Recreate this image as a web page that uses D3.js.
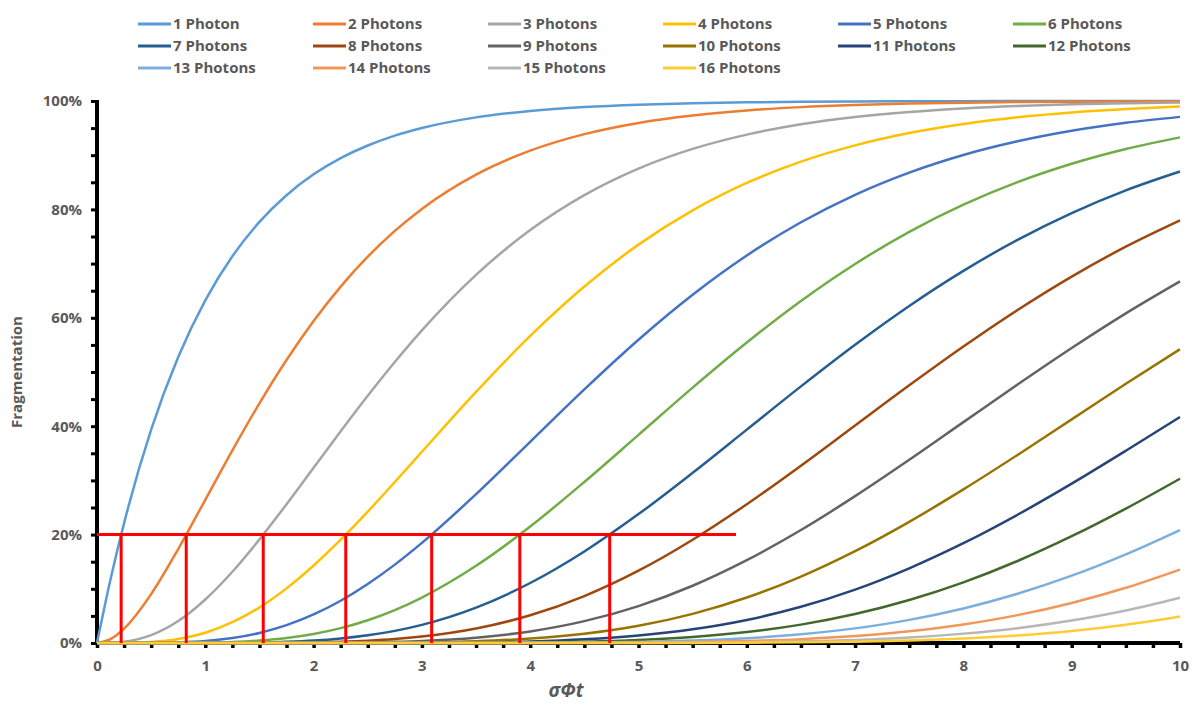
<!DOCTYPE html>
<html>
<head>
<meta charset="utf-8">
<script src="https://cdn.jsdelivr.net/npm/d3@7/dist/d3.min.js"></script>
<style>
  html, body { margin: 0; padding: 0; background: #ffffff; }
  svg { display: block; }
  text { font-family: "Open Sans", Lato, sans-serif; font-weight: 700; fill: #595959; }
</style>
</head>
<body>
<svg id="chart" width="1192" height="706"></svg>
<script>
// σΦt sample points (shared by every curve)
const sigmaPhiT = [0, 0.125, 0.25, 0.5, 0.75, 1, 1.25, 1.5, 1.75, 2, 2.25, 2.5, 2.75, 3,
  3.5, 4, 4.5, 5, 5.5, 6, 6.5, 7, 7.5, 8, 8.5, 9, 9.5, 10];

// Fragmentation (%) for each photon count
const photons1  = [0, 11.75, 22.12, 39.35, 52.76, 63.21, 71.35, 77.69, 82.62, 86.47, 89.46, 91.79, 93.61, 95.02,
  96.98, 98.17, 98.89, 99.33, 99.59, 99.75, 99.85, 99.91, 99.94, 99.97, 99.98, 99.99, 99.99, 100.0];
const photons2  = [0, 0.72, 2.65, 9.02, 17.34, 26.42, 35.54, 44.22, 52.21, 59.40, 65.75, 71.27, 76.03, 80.09,
  86.41, 90.84, 93.89, 95.96, 97.34, 98.26, 98.87, 99.27, 99.53, 99.70, 99.81, 99.88, 99.92, 99.95];
const photons3  = [0, 0.03, 0.22, 1.44, 4.05, 8.03, 13.15, 19.12, 25.60, 32.33, 39.07, 45.62, 51.85, 57.68,
  67.92, 76.19, 82.64, 87.53, 91.16, 93.80, 95.70, 97.04, 97.97, 98.62, 99.07, 99.38, 99.58, 99.72];
const photons4  = [0, 0, 0.01, 0.18, 0.73, 1.90, 3.83, 6.56, 10.08, 14.29, 19.06, 24.24, 29.70, 35.28,
  46.34, 56.65, 65.77, 73.50, 79.83, 84.88, 88.82, 91.82, 94.09, 95.76, 96.99, 97.88, 98.51, 98.97];
const photons5  = [0, 0, 0, 0.02, 0.11, 0.37, 0.91, 1.86, 3.29, 5.27, 7.80, 10.88, 14.46, 18.47,
  27.46, 37.12, 46.79, 55.95, 64.25, 71.49, 77.63, 82.70, 86.79, 90.04, 92.56, 94.50, 95.97, 97.07];
const photons6  = [0, 0, 0, 0, 0.01, 0.06, 0.18, 0.45, 0.91, 1.66, 2.74, 4.20, 6.08, 8.39,
  14.24, 21.49, 29.71, 38.40, 47.11, 55.43, 63.10, 69.93, 75.86, 80.88, 85.04, 88.43, 91.15, 93.29];
const photons7  = [0, 0, 0, 0, 0, 0.01, 0.03, 0.09, 0.22, 0.45, 0.84, 1.42, 2.24, 3.35,
  6.53, 11.07, 16.89, 23.78, 31.40, 39.37, 47.35, 55.03, 62.19, 68.66, 74.38, 79.32, 83.51, 86.99];
const photons8  = [0, 0, 0, 0, 0, 0, 0, 0.02, 0.05, 0.11, 0.23, 0.43, 0.73, 1.19,
  2.67, 5.11, 8.66, 13.34, 19.05, 25.60, 32.72, 40.13, 47.54, 54.70, 61.44, 67.61, 73.13, 77.98];
const photons9  = [0, 0, 0, 0, 0, 0, 0, 0, 0.01, 0.02, 0.05, 0.11, 0.22, 0.38,
  0.99, 2.14, 4.03, 6.81, 10.56, 15.28, 20.84, 27.09, 33.80, 40.75, 47.69, 54.43, 60.82, 66.72];
const photons10 = [0, 0, 0, 0, 0, 0, 0, 0, 0, 0.01, 0.01, 0.03, 0.06, 0.11,
  0.33, 0.81, 1.71, 3.18, 5.38, 8.39, 12.26, 16.95, 22.36, 28.34, 34.70, 41.26, 47.82, 54.21];
const photons11 = [0, 0, 0, 0, 0, 0, 0, 0, 0, 0, 0, 0.01, 0.01, 0.03,
  0.10, 0.28, 0.67, 1.37, 2.53, 4.26, 6.68, 9.85, 13.78, 18.41, 23.66, 29.40, 35.47, 41.70];
const photons12 = [0, 0, 0, 0, 0, 0, 0, 0, 0, 0, 0, 0, 0, 0.01,
  0.03, 0.09, 0.24, 0.55, 1.10, 2.01, 3.39, 5.34, 7.93, 11.19, 15.13, 19.70, 24.80, 30.32];
const photons13 = [0, 0, 0, 0, 0, 0, 0, 0, 0, 0, 0, 0, 0, 0,
  0.01, 0.03, 0.08, 0.20, 0.45, 0.88, 1.60, 2.70, 4.27, 6.38, 9.09, 12.42, 16.36, 20.84];
const photons14 = [0, 0, 0, 0, 0, 0, 0, 0, 0, 0, 0, 0, 0, 0,
  0, 0.01, 0.03, 0.07, 0.17, 0.36, 0.71, 1.28, 2.16, 3.42, 5.14, 7.39, 10.19, 13.55];
const photons15 = [0, 0, 0, 0, 0, 0, 0, 0, 0, 0, 0, 0, 0, 0,
  0, 0, 0.01, 0.02, 0.06, 0.14, 0.30, 0.57, 1.03, 1.73, 2.74, 4.15, 6.00, 8.35];
const photons16 = [0, 0, 0, 0, 0, 0, 0, 0, 0, 0, 0, 0, 0, 0,
  0, 0, 0, 0.01, 0.02, 0.05, 0.12, 0.24, 0.46, 0.82, 1.38, 2.20, 3.35, 4.87];

const seriesNames = ["1 Photon", "2 Photons", "3 Photons", "4 Photons", "5 Photons", "6 Photons",
  "7 Photons", "8 Photons", "9 Photons", "10 Photons", "11 Photons", "12 Photons",
  "13 Photons", "14 Photons", "15 Photons", "16 Photons"];
const seriesValues = [photons1, photons2, photons3, photons4, photons5, photons6, photons7, photons8,
  photons9, photons10, photons11, photons12, photons13, photons14, photons15, photons16];
const seriesColors = ["#5B9BD5", "#ED7D31", "#A5A5A5", "#FFC000", "#4472C4", "#70AD47",
  "#255E91", "#9E480E", "#636363", "#997300", "#264478", "#43682B",
  "#7CAFDD", "#F1975A", "#B7B7B7", "#FFCD33"];

// 20 % fragmentation threshold and the σΦt where curves 1–7 reach it
const thresholdLevel = 20;
const thresholdEnd = 5.9;
const thresholdCrossings = [0.223, 0.824, 1.535, 2.297, 3.090, 3.904, 4.734];

// Axis ticks
const yMajorTicks = [0, 20, 40, 60, 80, 100];
const yMinorStep = 5;
const xMajorTicks = [0, 1, 2, 3, 4, 5, 6, 7, 8, 9, 10];
const xMinorStep = 0.25;

const svg = d3.select("#chart");
const plotLeft = 97, plotRight = 1180, plotTop = 101, plotBottom = 643;

const x = d3.scaleLinear().domain([0, 10]).range([plotLeft, plotRight]);
const y = d3.scaleLinear().domain([0, 100]).range([plotBottom, plotTop]);

// ---- Legend (3 rows × 6 columns) ----
const legend = svg.append("g");
seriesNames.forEach((name, i) => {
  const col = i % 6, row = Math.floor(i / 6);
  const lx = 138 + col * 175, ly = 24 + row * 22;
  const g = legend.append("g").attr("transform", `translate(${lx},${ly})`);
  g.append("line").attr("x1", 0).attr("x2", 33).attr("y1", 0).attr("y2", 0)
    .attr("stroke", seriesColors[i]).attr("stroke-width", 3);
  g.append("text").attr("x", 35).attr("y", 0).attr("dy", "0.35em")
    .attr("font-size", 15).text(name);
});

// ---- Axes ----
const yTicks = d3.range(0, 100 + 0.001, yMinorStep);
const yAxis = d3.axisLeft(y)
  .tickValues(yTicks)
  .tickSize(6)
  .tickPadding(9)
  .tickFormat(d => yMajorTicks.includes(Math.round(d)) ? d3.format(".0%")(d / 100) : "");
const gy = svg.append("g").attr("transform", `translate(${plotLeft},0)`).call(yAxis);
gy.select(".domain").remove();
gy.selectAll(".tick line").attr("stroke", "#000").attr("stroke-width", 3);
gy.selectAll(".tick text").attr("font-size", 15).attr("font-weight", 700).attr("fill", "#595959")
  .style("font-family", "'Open Sans', sans-serif");

const xTicks = d3.range(0, 10 + 0.001, xMinorStep);
const xAxis = d3.axisBottom(x)
  .tickValues(xTicks)
  .tickSize(5)
  .tickPadding(12)
  .tickFormat(d => xMajorTicks.includes(d) ? d3.format("d")(d) : "");
const gx = svg.append("g").attr("transform", `translate(0,${plotBottom})`).call(xAxis);
gx.select(".domain").remove();
gx.selectAll(".tick line").attr("stroke", "#000").attr("stroke-width", 3.5);
gx.selectAll(".tick text").attr("font-size", 15).attr("font-weight", 700).attr("fill", "#595959")
  .style("font-family", "'Open Sans', sans-serif");

// axis lines
svg.append("line").attr("x1", x(0)).attr("x2", x(10)).attr("y1", y(0)).attr("y2", y(0))
  .attr("stroke", "#000").attr("stroke-width", 4);
svg.append("line").attr("x1", x(0)).attr("x2", x(0)).attr("y1", y(100) - 1).attr("y2", y(0) + 2)
  .attr("stroke", "#000").attr("stroke-width", 4);

// ---- Curves (drawn above the axis lines) ----
const lineGen = d3.line()
  .x(d => x(d[0]))
  .y(d => y(d[1]))
  .curve(d3.curveMonotoneX);

const curves = svg.append("g");
seriesValues.forEach((vals, i) => {
  const pts = sigmaPhiT.map((t, j) => [t, vals[j]]);
  curves.append("path").datum(pts)
    .attr("d", lineGen)
    .attr("fill", "none")
    .attr("stroke", seriesColors[i])
    .attr("stroke-width", 2.5);
});

// ---- 20 % threshold guides ----
const guides = svg.append("g");
guides.append("line")
  .attr("x1", x(0)).attr("x2", x(thresholdEnd))
  .attr("y1", y(thresholdLevel)).attr("y2", y(thresholdLevel))
  .attr("stroke", "#FF0000").attr("stroke-width", 3);
guides.selectAll("line.drop").data(thresholdCrossings).join("line")
  .attr("class", "drop")
  .attr("x1", d => x(d)).attr("x2", d => x(d))
  .attr("y1", y(thresholdLevel)).attr("y2", y(0))
  .attr("stroke", "#FF0000").attr("stroke-width", 3);

// ---- Axis titles ----
svg.append("text")
  .attr("transform", `translate(22,${(plotTop + plotBottom) / 2}) rotate(-90)`)
  .attr("text-anchor", "middle")
  .attr("font-size", 15)
  .text("Fragmentation");

svg.append("text")
  .attr("x", 566).attr("y", 697)
  .attr("text-anchor", "middle")
  .attr("font-size", 19)
  .attr("font-style", "italic")
  .text("σΦt");
</script>
</body>
</html>
